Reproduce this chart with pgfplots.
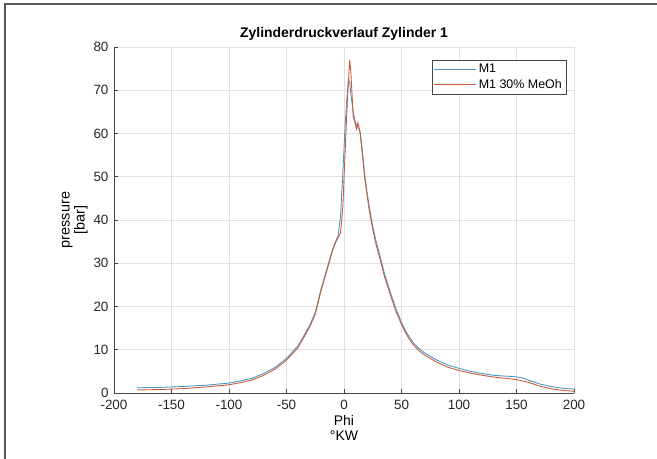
\documentclass[border=0pt]{standalone}
\usepackage{fontspec}
\setmainfont{Liberation Sans}
\usepackage{pgfplots}
\pgfplotsset{compat=1.18}
\definecolor{mblue}{RGB}{80,150,200}
\definecolor{morange}{RGB}{200,95,55}
\definecolor{gridgray}{RGB}{225,225,225}
\definecolor{axgray}{RGB}{70,70,70}
\begin{document}
\begin{tikzpicture}
\path[use as bounding box] (0,0) rectangle (657bp,459bp);
\draw[gray!70!black,line width=1.2bp] (5bp,0) -- (5bp,455bp) -- (657bp,455bp);
\begin{axis}[
  at={(114bp,66bp)}, anchor=south west,
  scale only axis, width=460bp, height=346bp,
  xmin=-200, xmax=200, ymin=0, ymax=80,
  xtick={-200,-150,...,200}, ytick={0,10,...,80},
  axis lines*=left,
  axis line style={axgray, line width=0.6pt},
  tick align=inside, major tick length=4bp,
  tick style={axgray, line width=0.6pt},
  grid=major, major grid style={gridgray, line width=0.6pt},
  /pgf/number format/assume math mode=true,
  ticklabel style={font=\fontsize{13.5}{15}\selectfont, text=black!85},
  xticklabel style={yshift=-4bp},
  yticklabel style={xshift=-2bp},
  title={\bfseries Zylinderdruckverlauf Zylinder 1},
  title style={font=\fontsize{14}{16}\selectfont, yshift=-3bp},
  xlabel={Phi\\°KW},
  xlabel style={align=center, font=\fontsize{14}{15}\selectfont, yshift=1bp},
  ylabel={pressure\\{[bar]}},
  ylabel style={align=center, font=\fontsize{14.5}{15}\selectfont, yshift=-1bp},
  legend style={at={(0.9826,0.9624)}, anchor=north east, draw=axgray, font=\fontsize{12.5}{14}\selectfont, row sep=1bp, inner sep=2bp},
  legend cell align=left,
  legend image code/.code={\draw[mark repeat=2,mark phase=2,#1] plot coordinates {(0bp,0bp) (21bp,0bp) (42bp,0bp)};},
]
\addplot[mblue, line width=0.9pt] coordinates {
(-180,1.2) (-160,1.3) (-140,1.5) (-120,1.8) (-100,2.3) (-90,2.8) (-80,3.4)
(-70,4.5) (-60,5.9) (-50,8.0) (-40,10.9) (-35,13.2) (-30,15.6) (-25,18.6)
(-20,24.0) (-15,28.6) (-10,33.2) (-7,35.2) (-5,36.5) (-3,41) (-1,51)
(1,62) (3,70) (4,72.5) (5,71.8) (6,69) (8,65) (10,62.5) (12,61.5) (14,60.5)
(16,56) (18,50.5) (20,46.5) (22,43) (25,38.5) (28,35) (31,32) (35,27.8)
(40,23.5) (45,19.6) (50,16.3) (55,13.7) (60,11.7) (65,10.3) (70,9.3)
(75,8.5) (80,7.7) (90,6.5) (100,5.7) (110,5.0) (120,4.5) (130,4.1)
(140,3.9) (148,3.8) (155,3.5) (160,3.0) (170,2.1) (180,1.5) (190,1.1) (200,0.9)
};
\addlegendentry{M1}
\addplot[morange, line width=0.9pt] coordinates {
(-180,0.7) (-160,0.8) (-140,1.0) (-120,1.4) (-100,1.9) (-90,2.4) (-80,3.0)
(-70,4.1) (-60,5.5) (-50,7.6) (-40,10.5) (-35,12.8) (-30,15.2) (-25,18.2)
(-20,23.6) (-15,28.2) (-10,32.9) (-7,35.0) (-5,36.0) (-3,37.0) (-1,43)
(1,56) (3,68) (4.5,75) (5,77) (6,74) (7,69) (8,64) (10,62) (11,61)
(12,62.5) (13,61.5) (14,60) (16,55) (18,49.8) (20,45.8) (22,42.2) (25,37.8)
(28,34.2) (31,31.3) (35,27.1) (40,22.9) (45,19.0) (50,15.8) (55,13.2)
(60,11.2) (65,9.8) (70,8.8) (75,8.0) (80,7.2) (90,6.0) (100,5.2) (110,4.6)
(120,4.1) (130,3.7) (140,3.4) (150,3.1) (160,2.5) (170,1.6) (180,1.0) (190,0.6) (200,0.4)
};
\addlegendentry{M1 30\% MeOh}
\end{axis}
\end{tikzpicture}
\end{document}
